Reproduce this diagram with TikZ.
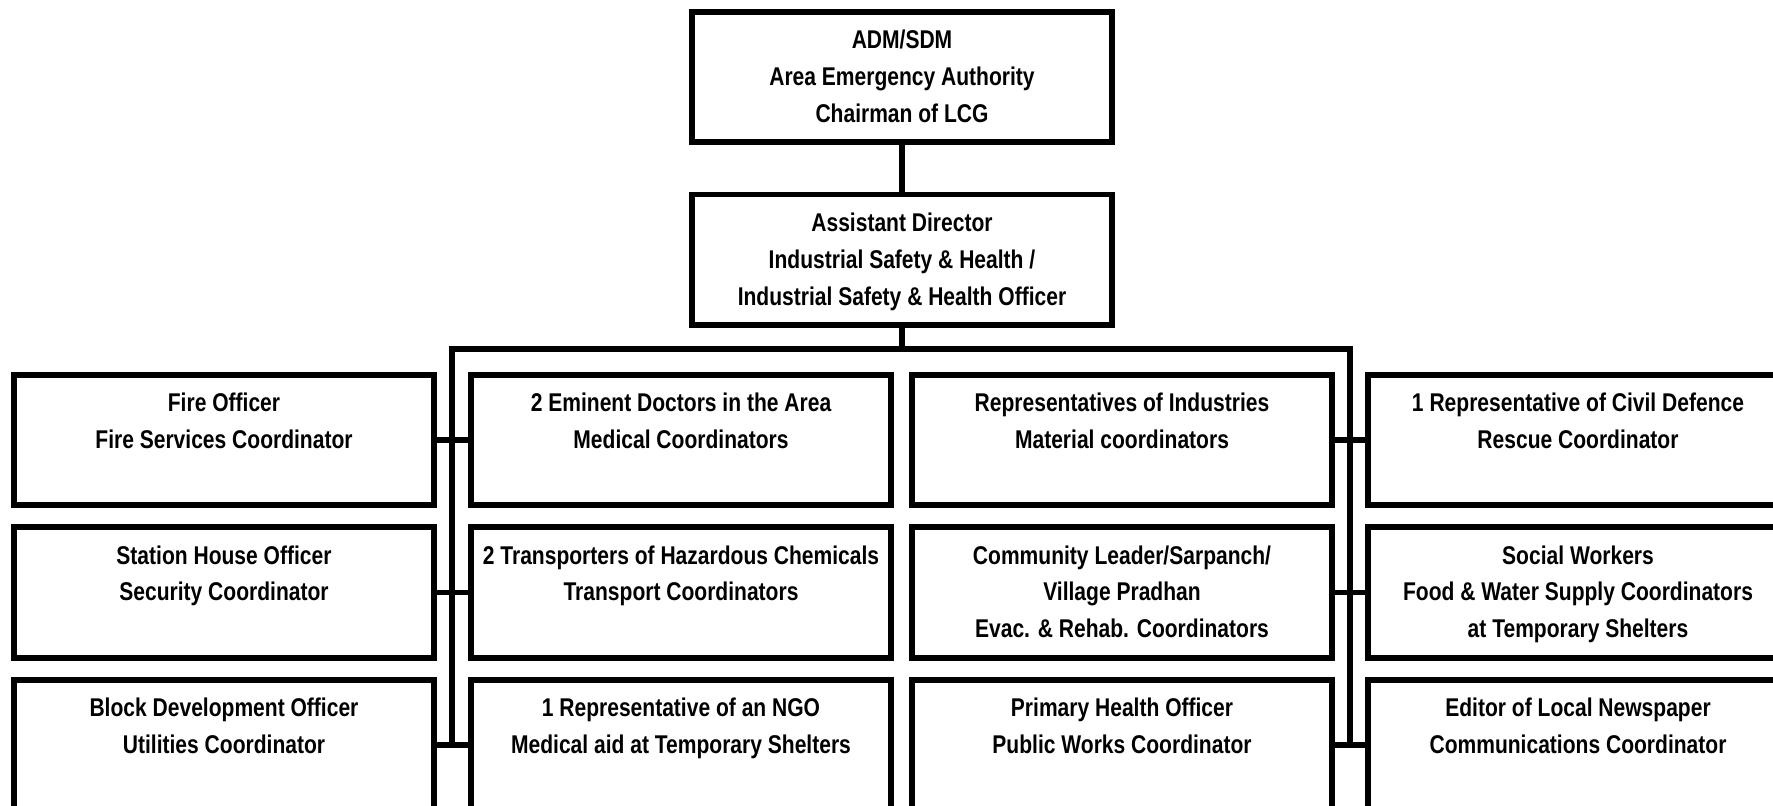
\documentclass[tikz,border=0pt]{standalone}
\usepackage{fontspec}
\setmainfont{Liberation Sans}[FakeStretch=0.82]
\usetikzlibrary{positioning}
\newcommand{\roletext}[1]{\begin{tabular}[t]{@{}c@{}}#1\end{tabular}}

\tikzset{
  role/.style={draw, line width=1.6pt, minimum width=4.2cm, inner sep=0pt, outer sep=0pt,
    text height=0.37cm, text depth=0.935cm,
    font=\fontsize{7.3}{10.45}\selectfont\bfseries},
  link/.style={line width=1.6pt}
}

\begin{document}
\begin{tikzpicture}
    \useasboundingbox (0,0) rectangle (17.73,-8.06);
    \clip (0,0) rectangle (17.73,-8.06);
    \node[role] (adm) at (9.02,-0.77) {\roletext{ADM/SDM\\Area Emergency Authority\\Chairman of LCG}};
    \node[role, below=0.523cm of adm] (asst) {\roletext{Assistant Director\\Industrial Safety \& Health /\\Industrial Safety \& Health Officer}};
    % first row
    \node[role] (fire) at (2.24,-4.40) {\roletext{Fire Officer\\Fire Services Coordinator}};
    \node[role, right=0.37cm of fire] (doctors) {\roletext{2 Eminent Doctors in the Area\\Medical Coordinators}};
    \node[role, right=0.21cm of doctors] (industry) {\roletext{Representatives of Industries\\Material coordinators}};
    \node[role, right=0.36cm of industry] (civdef) {\roletext{1 Representative of Civil Defence\\Rescue Coordinator}};
    % second row
    \node[role, below=0.22cm of fire] (sho) {\roletext{Station House Officer\\Security Coordinator}};
    \node[role, below=0.22cm of doctors] (transport) {\roletext{2 Transporters of Hazardous Chemicals\\Transport Coordinators}};
    \node[role, below=0.22cm of industry] (sarpanch) {\roletext{Community Leader/Sarpanch/\\Village Pradhan\\Evac. \& Rehab. Coordinators}};
    \node[role, below=0.22cm of civdef] (social) {\roletext{Social Workers\\Food \& Water Supply Coordinators\\at Temporary Shelters}};
    % third row
    \node[role, below=0.22cm of sho] (bdo) {\roletext{Block Development Officer\\Utilities Coordinator}};
    \node[role, below=0.22cm of transport] (ngo) {\roletext{1 Representative of an NGO\\Medical aid at Temporary Shelters}};
    \node[role, below=0.22cm of sarpanch] (pho) {\roletext{Primary Health Officer\\Public Works Coordinator}};
    \node[role, below=0.22cm of social] (editor) {\roletext{Editor of Local Newspaper\\Communications Coordinator}};
    \coordinate (busL) at (4.52,-3.49);
    \coordinate (busR) at (13.50,-3.49);
    \draw[link] (adm) -- (asst);
    \draw[link] (asst) -- (asst |- busL);
    \draw[link] (busL |- bdo) -- (busL) -- (busR) -- (busR |- pho);
    \foreach \a/\b in {fire/doctors,sho/transport,bdo/ngo,industry/civdef,sarpanch/social,pho/editor}
      \draw[link] (\a) -- (\b);
\end{tikzpicture}
\end{document}
